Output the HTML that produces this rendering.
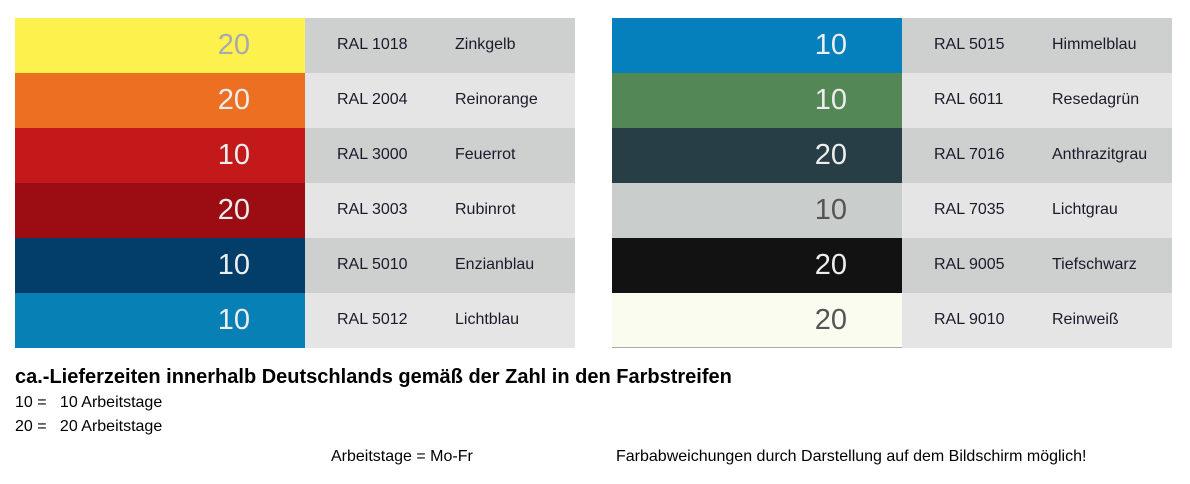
<!DOCTYPE html>
<html><head><meta charset="utf-8"><style>
body{margin:0;width:1190px;height:484px;background:#fff;font-family:"Liberation Sans",sans-serif;position:relative;overflow:hidden}
.t{position:absolute;top:18px;width:560px}
.r{position:relative;height:55px;display:flex}
.c{width:290px;height:55px;position:relative}
.c span{position:absolute;right:55px;top:11px;font-size:29px;}
.i{width:270px;height:55px;position:relative;font-size:16px;color:#1a1a2a}
.i .a{position:absolute;left:32px;top:18px}
.i .b{position:absolute;left:150px;top:18px}
.g1{background:#cdd0cf}.g2{background:#e5e5e5}
.txt{position:absolute;color:#000;white-space:nowrap}
</style></head><body>
<div class="t" style="left:15px">
<div class="r"><div class="c" style="background:#fcf14d"><span style="color:#a9a9b0">20</span></div><div class="i g1"><span class="a">RAL 1018</span><span class="b">Zinkgelb</span></div></div>
<div class="r"><div class="c" style="background:#ed6f21"><span style="color:#eee">20</span></div><div class="i g2"><span class="a">RAL 2004</span><span class="b">Reinorange</span></div></div>
<div class="r"><div class="c" style="background:#c3191b"><span style="color:#eee">10</span></div><div class="i g1"><span class="a">RAL 3000</span><span class="b">Feuerrot</span></div></div>
<div class="r"><div class="c" style="background:#9b0d12"><span style="color:#eee">20</span></div><div class="i g2"><span class="a">RAL 3003</span><span class="b">Rubinrot</span></div></div>
<div class="r"><div class="c" style="background:#033d69"><span style="color:#eee">10</span></div><div class="i g1"><span class="a">RAL 5010</span><span class="b">Enzianblau</span></div></div>
<div class="r"><div class="c" style="background:#0780b6"><span style="color:#eee">10</span></div><div class="i g2"><span class="a">RAL 5012</span><span class="b">Lichtblau</span></div></div>
</div>
<div class="t" style="left:612px">
<div class="r"><div class="c" style="background:#0580bc"><span style="color:#eee">10</span></div><div class="i g1"><span class="a">RAL 5015</span><span class="b">Himmelblau</span></div></div>
<div class="r"><div class="c" style="background:#538755"><span style="color:#eee">10</span></div><div class="i g2"><span class="a">RAL 6011</span><span class="b">Resedagrün</span></div></div>
<div class="r"><div class="c" style="background:#283e47"><span style="color:#eee">20</span></div><div class="i g1"><span class="a">RAL 7016</span><span class="b">Anthrazitgrau</span></div></div>
<div class="r"><div class="c" style="background:#c9cdcb"><span style="color:#555">10</span></div><div class="i g2"><span class="a">RAL 7035</span><span class="b">Lichtgrau</span></div></div>
<div class="r"><div class="c" style="background:#121212"><span style="color:#eee">20</span></div><div class="i g1"><span class="a">RAL 9005</span><span class="b">Tiefschwarz</span></div></div>
<div class="r"><div class="c" style="background:#fafcf0;border-bottom:1px solid #aaa;height:54px"><span style="color:#555">20</span></div><div class="i g2"><span class="a">RAL 9010</span><span class="b">Reinweiß</span></div></div>
</div>
<div class="txt" style="left:15px;top:366px;font-size:20px;font-weight:bold">ca.-Lieferzeiten innerhalb Deutschlands gemäß der Zahl in den Farbstreifen</div>
<div class="txt" style="left:15px;top:394px;font-size:16px">10 = &nbsp; 10 Arbeitstage</div>
<div class="txt" style="left:15px;top:418px;font-size:16px">20 = &nbsp; 20 Arbeitstage</div>
<div class="txt" style="left:331px;top:448px;font-size:16px">Arbeitstage = Mo-Fr</div>
<div class="txt" style="left:616px;top:448px;font-size:16px">Farbabweichungen durch Darstellung auf dem Bildschirm möglich!</div>
</body></html>
